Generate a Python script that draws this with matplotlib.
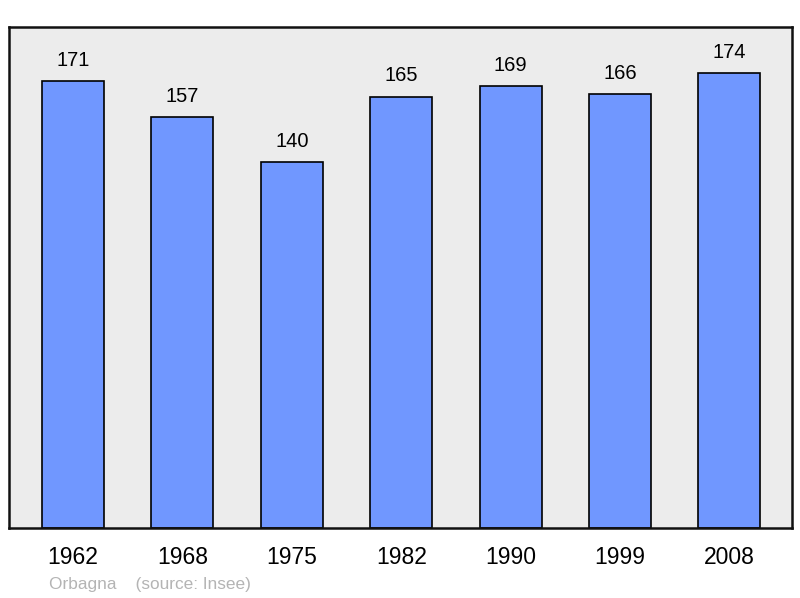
import matplotlib
matplotlib.use("Agg")
import matplotlib.pyplot as plt

plt.rcParams["font.family"] = ["Liberation Sans", "DejaVu Sans"]

years = ["1962", "1968", "1975", "1982", "1990", "1999", "2008"]
population = [171, 157, 140, 165, 169, 166, 174]
commune = "Orbagna"
source = "(source: Insee)"

fig = plt.figure(figsize=(8.0, 5.98), dpi=100)
# axes box: x 9..792, y 27..528 px
ax = fig.add_axes([9 / 800, 1 - 528 / 598, 783 / 800, 501 / 598])
ax.set_facecolor("#ececec")

x = range(len(years))
ax.bar(x, population, width=0.567, color="#7097ff", edgecolor="black", linewidth=1.2, zorder=2)

for i, v in enumerate(population):
    ax.annotate(str(v), (i, v), xytext=(0, 15), textcoords="offset points",
                ha="center", va="center", fontsize=14.5, color="black")

ax.set_xlim(-0.585, 6.572)
ax.set_ylim(0, 191.6)
ax.set_yticks([])
ax.set_xticks(list(x))
ax.set_xticklabels(years, fontsize=16.5)
ax.tick_params(axis="x", length=0, pad=13)
for s in ax.spines.values():
    s.set_linewidth(1.8)
    s.set_color("#111111")

fig.text(49 / 800, 1 - 584 / 598, commune + "    " + source, fontsize=12.4,
         color="#b4b4b4", ha="left", va="center")

fig.savefig("out.png", dpi=100)
